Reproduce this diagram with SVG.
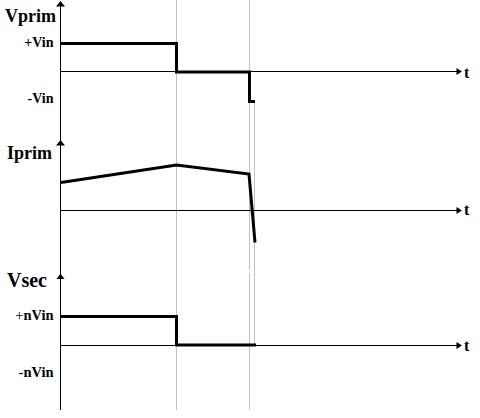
<svg xmlns="http://www.w3.org/2000/svg" width="480" height="418" viewBox="0 0 480 418">
<style>
.bg{fill:#ffffff}
.grid{stroke:#c0c0c0;stroke-width:1;fill:none}
.axis{stroke:#000;stroke-width:1;fill:none}
.head{fill:#000;stroke:none}
.trace{stroke:#000;stroke-width:3;fill:none;stroke-linejoin:miter;stroke-linecap:butt}
.lbl{font-family:"Liberation Serif","Times New Roman",serif;font-weight:bold;fill:#000}
.big{font-size:18px}
.lvl{font-size:14px;text-anchor:end}
.t{font-size:16px}
</style>
<rect class="bg" x="0" y="0" width="480" height="418"/>
<g id="gridlines">
<line class="grid" x1="176.5" y1="0" x2="176.5" y2="410"/>
<line class="grid" x1="249.5" y1="0" x2="249.5" y2="270"/>
<line class="grid" x1="249.5" y1="273" x2="249.5" y2="410"/>
<line class="grid" x1="254.5" y1="101" x2="254.5" y2="345"/>
</g>
<g id="axes">
<line class="axis" x1="60.5" y1="3" x2="60.5" y2="410"/>
<polygon class="head" points="60.5,1 56,6.5 65,6.5"/>
<polygon class="head" points="60.5,140 56,145.5 65,145.5"/>
<polygon class="head" points="60.5,273.5 56.5,279 64.5,279"/>
<line class="axis" x1="61" y1="71.5" x2="458" y2="71.5"/>
<polygon class="head" points="462,71.5 456.5,68 456.5,75"/>
<line class="axis" x1="61" y1="210.5" x2="458" y2="210.5"/>
<polygon class="head" points="462,210.5 456.5,207 456.5,214"/>
<line class="axis" x1="61" y1="345.5" x2="458" y2="345.5"/>
<polygon class="head" points="462,345.5 456.5,342 456.5,349"/>
</g>
<g id="vprim">
<text class="lbl big" x="5" y="22">Vprim</text>
<text class="lbl lvl" x="53.5" y="47">+Vin</text>
<text class="lbl lvl" x="53.5" y="103">-Vin</text>
<text class="lbl t" x="464" y="77.5">t</text>
<polyline class="trace" points="61,43.5 176.5,43.5 176.5,72 249.5,72 249.5,101.5 255,101.5"/>
</g>
<g id="iprim">
<text class="lbl big" x="7" y="159">Iprim</text>
<text class="lbl t" x="464" y="215">t</text>
<polyline class="trace" points="61,182.5 176.5,165 249,174 255,242.5"/>
</g>
<g id="vsec">
<text class="lbl" style="font-size:20px" x="7" y="286.5">Vsec</text>
<text class="lbl lvl" style="font-size:14.5px" x="53.5" y="319.5"><tspan font-weight="normal">+</tspan>nVin</text>
<text class="lbl lvl" style="font-size:14.5px" x="53.5" y="376.5"><tspan font-weight="normal">-</tspan>nVin</text>
<text class="lbl t" x="464" y="350.5">t</text>
<polyline class="trace" points="61,316.5 176.5,316.5 176.5,345 256,345"/>
</g>
</svg>
